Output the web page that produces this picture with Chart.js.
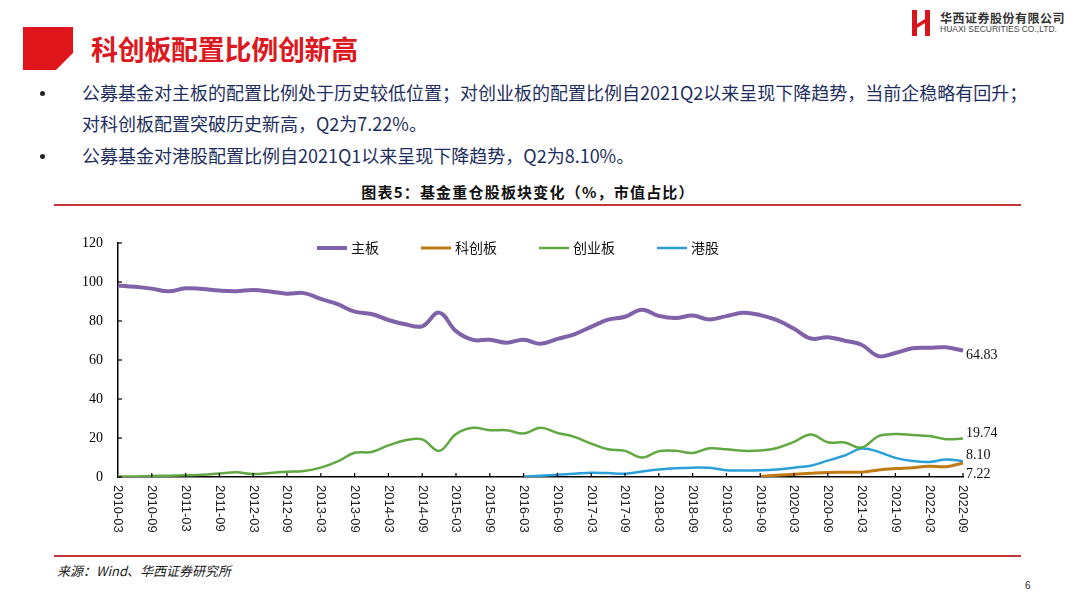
<!DOCTYPE html>
<html>
<head>
<meta charset="utf-8">
<script src="https://cdn.jsdelivr.net/npm/chart.js@4.4.0/dist/chart.umd.min.js"></script>
<style>
  html, body { margin: 0; padding: 0; background: #fff; }
  body { width: 1080px; height: 605px; position: relative; overflow: hidden; font-family: "Noto Sans CJK SC", sans-serif; }
  .abs { position: absolute; white-space: nowrap; }
  #title { left: 91px; top: 30px; font-size: 27px; font-weight: bold; color: #dc1820; line-height: 38px; letter-spacing: -0.3px; }
  .bullet { font-size: 18px; color: #1e2f5e; line-height: 26px; }
  .dot { width: 5px; height: 5px; border-radius: 50%; background: #222; }
  #chartTitle { left: 0; width: 1056px; text-align: center; top: 181px; font-size: 15px; font-weight: bold; color: #111; letter-spacing: 1.2px; }
  .rule { position: absolute; left: 54px; width: 967px; height: 2px; background: #c0383a; }
  #source { left: 57px; top: 561px; font-size: 13px; font-style: italic; color: #222; }
  #page { left: 1025px; top: 580px; font-size: 10px; color: #333; font-family: "Liberation Sans", sans-serif; }
  #logoText1 { left: 940px; top: 9px; font-size: 12px; font-weight: bold; color: #333; letter-spacing: 0.5px; }
  #logoText2 { left: 940px; top: 24px; font-size: 8.5px; color: #444; font-family: "Liberation Sans", sans-serif; }
  #wrap { position: absolute; left: 0; top: 0; width: 1080px; height: 605px; }
</style>
</head>
<body>
<svg class="abs" style="left:0;top:0" width="100" height="80">
  <polygon points="23,27 73,27 73,53 56,70 23,70" fill="#e0141b"/>
</svg>
<svg class="abs" style="left:910px;top:8px" width="26" height="30">
  <rect x="2" y="2" width="5" height="26" fill="#d8141c"/>
  <rect x="15" y="2" width="5" height="26" fill="#d8141c"/>
  <polygon points="7,16 15,11 15,15 7,20" fill="#d8141c"/>
</svg>
<div id="logoText1" class="abs">华西证券股份有限公司</div>
<div id="logoText2" class="abs">HUAXI SECURITIES CO.,LTD.</div>
<div id="title" class="abs">科创板配置比例创新高</div>
<div class="abs dot" style="left:40px;top:91px"></div>
<div class="abs bullet" style="left:82px;top:79px">公募基金对主板的配置比例处于历史较低位置；对创业板的配置比例自2021Q2以来呈现下降趋势，当前企稳略有回升；</div>
<div class="abs bullet" style="left:82px;top:110px">对科创板配置突破历史新高，Q2为7.22%。</div>
<div class="abs dot" style="left:40px;top:154px"></div>
<div class="abs bullet" style="left:82px;top:142px">公募基金对港股配置比例自2021Q1以来呈现下降趋势，Q2为8.10%。</div>
<div id="chartTitle" class="abs">图表5：基金重仓股板块变化（%，市值占比）</div>
<div class="rule" style="top:204px"></div>
<div class="rule" style="top:555px"></div>
<div id="source" class="abs">来源：Wind、华西证券研究所</div>
<div id="page" class="abs">6</div>
<div id="wrap"><canvas id="c"></canvas></div>
<script>
// 季度数据 2010-03 ~ 2022-09
const quarters = [
  '2010-03','2010-06','2010-09','2010-12','2011-03','2011-06','2011-09','2011-12',
  '2012-03','2012-06','2012-09','2012-12','2013-03','2013-06','2013-09','2013-12',
  '2014-03','2014-06','2014-09','2014-12','2015-03','2015-06','2015-09','2015-12',
  '2016-03','2016-06','2016-09','2016-12','2017-03','2017-06','2017-09','2017-12',
  '2018-03','2018-06','2018-09','2018-12','2019-03','2019-06','2019-09','2019-12',
  '2020-03','2020-06','2020-09','2020-12','2021-03','2021-06','2021-09','2021-12',
  '2022-03','2022-06','2022-09'
];

const mainBoard = [98.2,97.6,96.6,95.2,96.8,96.4,95.6,95.3,95.9,95.1,94.0,94.3,91.3,88.6,84.8,83.6,
  80.5,78.3,77.3,84.3,74.8,70.3,70.4,68.9,70.4,68.3,70.8,73.2,77.0,80.7,82.2,85.8,
  82.6,81.5,82.8,80.8,82.5,84.2,83.0,80.4,76.0,71.0,71.7,69.9,67.8,62.0,63.6,66.0,
  66.3,66.5,64.83];

const starBoard = [null,null,null,null,null,null,null,null,null,null,null,null,null,null,null,null,
  null,null,null,null,null,null,null,null,null,null,null,null,null,null,null,null,
  null,null,null,null,null,null,0.3,0.9,1.4,1.9,2.3,2.4,2.5,3.6,4.3,4.8,
  5.5,5.3,7.22];

const chiNext = [0.2,0.3,0.5,0.7,0.9,1.1,1.8,2.4,1.5,2.1,2.7,3.1,4.8,8.0,12.4,12.8,
  16.2,18.8,19.3,13.4,22.0,25.2,24.0,24.0,22.3,25.2,22.6,20.6,17.1,14.2,13.4,10.0,
  13.2,13.4,12.3,14.7,14.2,13.4,13.6,14.9,18.0,21.8,17.8,17.7,15.1,21.0,22.0,21.6,
  21.0,19.4,19.74];

const hkStocks = [null,null,null,null,null,null,null,null,null,null,null,null,null,null,null,null,
  null,null,null,null,null,null,null,null,0.2,0.6,1.2,1.7,2.2,2.0,1.7,2.8,
  3.8,4.5,4.8,4.7,3.5,3.3,3.4,3.9,4.8,5.8,8.4,11.0,14.6,12.9,9.8,8.2,
  7.7,9.0,8.10];

const seriesNames = ['主板', '科创板', '创业板', '港股'];
const seriesColors = ['#7f62a8', '#c07a14', '#62a842', '#2a9fd8'];
const seriesWidths = [4, 3, 2.5, 2.5];
// 末端数值标注的垂直偏移
const endLabelOffsets = [5, 11, -5, -6];

const legendStartX = 317;
const legendY = 248;

const decorPlugin = {
  id: 'decor',
  afterDraw(chart) {
    const c = chart.ctx;
    const xs = chart.scales.x;
    const ys = chart.scales.y;
    const area = chart.chartArea;
    c.save();
    c.strokeStyle = '#000';
    c.lineWidth = 1.2;
    // 内向刻度线
    ys.ticks.forEach(t => {
      const py = ys.getPixelForValue(t.value);
      c.beginPath(); c.moveTo(area.left, py); c.lineTo(area.left + 4, py); c.stroke();
    });
    c.fillStyle = '#222';
    c.font = '13px "Liberation Sans", Arial, sans-serif';
    c.textAlign = 'left';
    c.textBaseline = 'middle';
    quarters.forEach((q, i) => {
      if (i % 2 !== 0) return;
      const px = xs.getPixelForValue(i);
      if (i > 0) {
        c.beginPath(); c.moveTo(px, area.bottom); c.lineTo(px, area.bottom - 4); c.stroke();
      }
      c.save();
      c.translate(px, area.bottom + 8);
      c.rotate(Math.PI / 2);
      c.fillText(q, 0, 0);
      c.restore();
    });

    // 末端数值
    c.fillStyle = '#111';
    c.font = '14px "Liberation Serif", "Times New Roman", serif';
    chart.data.datasets.forEach((ds, di) => {
      const meta = chart.getDatasetMeta(di);
      const last = meta.data[meta.data.length - 1];
      const val = ds.data[ds.data.length - 1];
      c.fillText(val.toFixed(2), last.x + 3, last.y + endLabelOffsets[di]);
    });

    // 图例
    let lx = legendStartX;
    c.font = '14px "Noto Sans CJK SC", sans-serif';
    chart.data.datasets.forEach(ds => {
      c.strokeStyle = ds.borderColor;
      c.lineWidth = ds.borderWidth;
      c.beginPath(); c.moveTo(lx, legendY); c.lineTo(lx + 30, legendY); c.stroke();
      c.fillStyle = '#111';
      c.fillText(ds.label, lx + 34, legendY);
      lx += 34 + c.measureText(ds.label).width + 42;
    });
    c.restore();
  }
};

new Chart(document.getElementById('c'), {
  type: 'line',
  data: {
    labels: quarters,
    datasets: [mainBoard, starBoard, chiNext, hkStocks].map((d, i) => ({
      label: seriesNames[i],
      data: d,
      borderColor: seriesColors[i],
      backgroundColor: seriesColors[i],
      borderWidth: seriesWidths[i],
      pointRadius: 0,
      tension: 0.4,
      fill: false
    }))
  },
  options: {
    responsive: true,
    maintainAspectRatio: false,
    animation: false,
    layout: { padding: { left: 0, top: 243, right: 117, bottom: 128 } },
    plugins: { legend: { display: false }, tooltip: { enabled: false } },
    scales: {
      x: {
        ticks: { display: false },
        grid: { display: false, drawTicks: false },
        border: { display: true, color: '#000', width: 1.5 },
        afterFit(scale) { scale.height = 0; }
      },
      y: {
        min: 0,
        max: 120,
        ticks: {
          stepSize: 10,
          padding: 15,
          color: '#000',
          font: { family: '"Liberation Serif", "Times New Roman", serif', size: 14 },
          callback: v => (v % 20 === 0 ? v : '')
        },
        grid: { display: false, drawTicks: false },
        border: { display: true, color: '#000', width: 1.5 },
        afterFit(scale) { scale.width = 118; }
      }
    }
  },
  plugins: [decorPlugin]
});
</script>
</body>
</html>
